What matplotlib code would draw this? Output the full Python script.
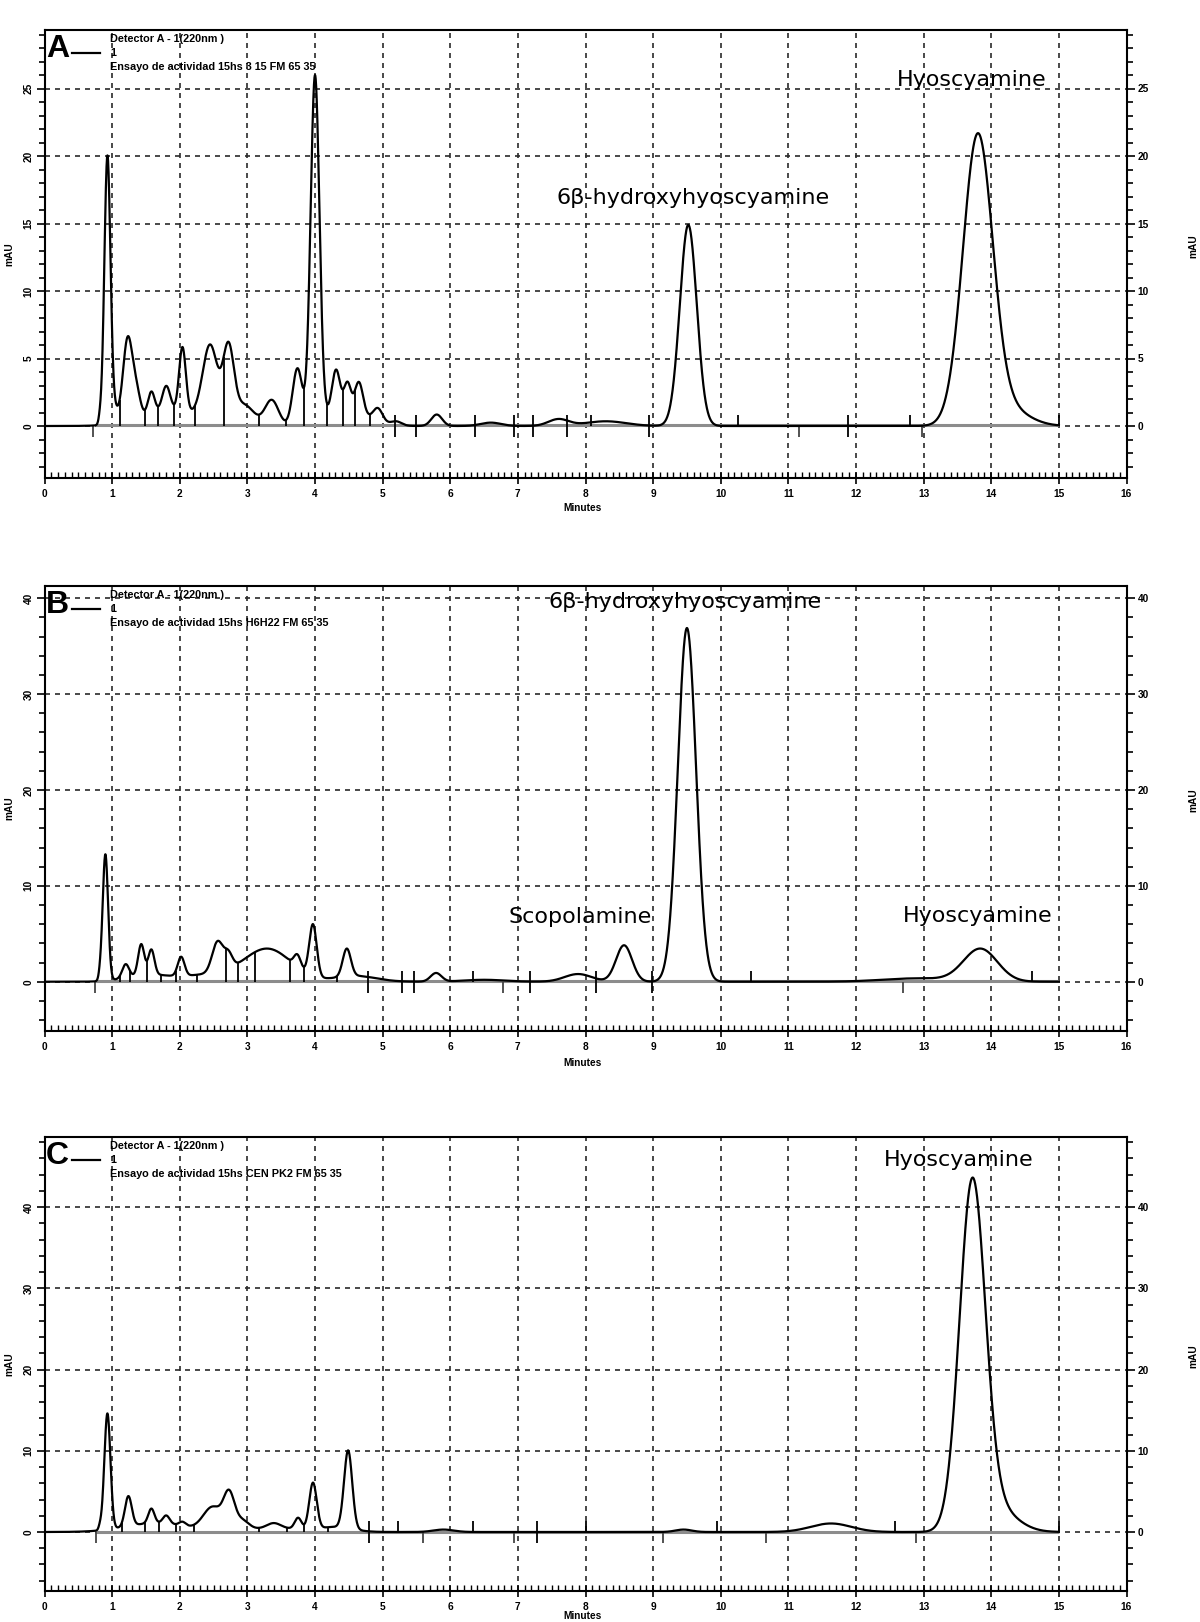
import numpy as np
import matplotlib
matplotlib.use("Agg")
import matplotlib.pyplot as plt
from matplotlib.ticker import MultipleLocator
from matplotlib.lines import Line2D

# ---------------- data ----------------
# Panel A : peak retention times (min), heights (mAU), widths (sigma, min)
a_rt = [0.82, 0.93, 1.03, 1.23, 1.36, 1.58, 1.80, 2.04, 2.45, 2.72, 2.95, 3.36, 3.74, 4.00,
        4.31, 4.48, 4.65, 4.93, 1.90, 4.45, 5.20, 5.80, 6.60, 7.60, 8.30, 9.52, 13.80, 14.25]
a_h = [0.4, 19.8, 1.0, 6.1, 1.8, 1.7, 1.9, 4.8, 5.5, 5.3, 1.5, 1.9, 4.2, 25.6,
       3.1, 2.0, 2.3, 1.0, 1.1, 1.2, 0.3, 0.85, 0.25, 0.5, 0.35, 14.9, 21.3, 1.2]
a_w = [0.02, 0.045, 0.05, 0.07, 0.06, 0.05, 0.06, 0.05, 0.11, 0.08, 0.15, 0.10, 0.07, 0.065,
       0.06, 0.05, 0.06, 0.07, 0.45, 0.30, 0.08, 0.08, 0.15, 0.15, 0.30, 0.125, 0.22, 0.30]
a_drop = [1.11, 1.49, 1.68, 1.92, 2.23, 2.65, 3.17, 3.57, 3.84, 4.18, 4.42, 4.59, 4.81]
a_up = [8.08, 10.25, 12.80, 15.00]
a_down = [0.72, 11.15, 12.98]
a_cross = [5.18, 5.50, 6.37, 6.95, 7.23, 7.73, 8.94, 11.88]
a_yticks = [0, 5, 10, 15, 20, 25]

# Panel B
b_rt = [0.82, 0.90, 1.20, 1.43, 1.58, 2.02, 2.56, 2.72, 3.74, 3.97, 4.47,
        1.50, 2.40, 3.30, 4.60, 5.79, 6.50, 7.89, 8.57, 9.50, 12.90, 13.84]
b_h = [0.4, 13.2, 1.4, 3.2, 2.6, 2.0, 3.2, 1.5, 1.3, 5.4, 2.9,
       0.7, 0.7, 3.4, 0.6, 0.9, 0.2, 0.8, 3.8, 36.9, 0.35, 3.4]
b_w = [0.02, 0.04, 0.05, 0.045, 0.045, 0.05, 0.08, 0.06, 0.05, 0.055, 0.06,
       0.30, 0.40, 0.35, 0.30, 0.08, 0.30, 0.20, 0.118, 0.135, 0.50, 0.25]
b_drop = [1.11, 1.26, 1.51, 1.73, 1.94, 2.25, 2.68, 2.86, 3.12, 3.63, 3.84, 4.32]
b_up = [6.33, 10.44, 14.60]
b_down = [0.74, 6.78, 12.69]
b_cross = [4.78, 5.29, 5.46, 7.18, 8.16, 8.98]
b_yticks = [0, 10, 20, 30, 40]

# Panel C
c_rt = [0.82, 0.93, 1.24, 1.58, 1.80, 2.04, 2.49, 2.73, 2.92, 3.39, 3.75, 3.97, 4.49,
        1.65, 3.40, 4.30, 5.90, 9.45, 11.63, 13.72, 14.05]
c_h = [0.4, 14.3, 3.7, 1.8, 1.0, 0.5, 2.9, 4.2, 1.2, 0.6, 1.4, 5.7, 9.6,
       1.1, 0.5, 0.6, 0.3, 0.3, 1.05, 42.0, 3.0]
c_w = [0.02, 0.045, 0.05, 0.045, 0.05, 0.05, 0.14, 0.08, 0.10, 0.10, 0.05, 0.055, 0.06,
       0.45, 0.35, 0.25, 0.15, 0.12, 0.30, 0.19, 0.30]
c_drop = [1.14, 1.49, 1.70, 1.94, 2.21, 3.17, 3.58, 3.83, 4.19]
c_up = [5.23, 6.33, 8.00, 9.94, 12.58, 15.00]
c_down = [0.76, 5.60, 6.94, 9.15, 10.67, 12.88]
c_cross = [4.80, 7.29]
c_yticks = [0, 10, 20, 30, 40]

x_ticks = list(range(0, 17))
sample_names = ["Ensayo de actividad 15hs 3 15 FM 65 35",
                "Ensayo de actividad 15hs H6H22 FM 65 35",
                "Ensayo de actividad 15hs CEN PK2 FM 65 35"]
panel_letters = ["A", "B", "C"]
a_labels = ["Hyoscyamine", "6\u03b2-hydroxyhyoscyamine"]
a_label_xy = [(13.71, 25.6), (9.59, 16.9)]
b_labels = ["6\u03b2-hydroxyhyoscyamine", "Scopolamine", "Hyoscyamine"]
b_label_xy = [(9.47, 39.6), (7.92, 6.8), (13.80, 6.9)]
c_labels = ["Hyoscyamine"]
c_label_xy = [(13.52, 45.8)]

# ---------------- figure ----------------
W, H = 1200, 1622
fig = plt.figure(figsize=(W / 100, H / 100), dpi=100)
TICKFONT = dict(family=["Liberation Sans", "DejaVu Sans"], fontsize=7.3, fontweight="bold")
HDRFONT = dict(family=["Liberation Sans Narrow", "Liberation Sans", "DejaVu Sans"],
               fontsize=7.8, fontweight="bold")

panels = [
    dict(rt=a_rt, h=a_h, w=a_w, drop=a_drop, up=a_up, down=a_down, cross=a_cross,
         yticks=a_yticks, labels=a_labels, label_xy=a_label_xy,
         top=30, bottom=478, zero=426, ppu=13.5, yminor=1, minutes_y=508),
    dict(rt=b_rt, h=b_h, w=b_w, drop=b_drop, up=b_up, down=b_down, cross=b_cross,
         yticks=b_yticks, labels=b_labels, label_xy=b_label_xy,
         top=586, bottom=1031, zero=981.7, ppu=9.585, yminor=2, minutes_y=1063),
    dict(rt=c_rt, h=c_h, w=c_w, drop=c_drop, up=c_up, down=c_down, cross=c_cross,
         yticks=c_yticks, labels=c_labels, label_xy=c_label_xy,
         top=1137, bottom=1591, zero=1532, ppu=8.12, yminor=2, minutes_y=1616),
]

X0, X1 = 44.5, 1126.5
t = np.linspace(0, 15, 6001)


def signal(x, rt, h, w):
    x = np.asarray(x, dtype=float)
    out = np.zeros_like(x)
    for r, hh, ww in zip(rt, h, w):
        out += hh * np.exp(-0.5 * ((x - r) / ww) ** 2)
    return out


for i, p in enumerate(panels):
    ax = fig.add_axes([X0 / W, 1 - p["bottom"] / H, (X1 - X0) / W, (p["bottom"] - p["top"]) / H])
    ylo = -(p["bottom"] - p["zero"]) / p["ppu"]
    yhi = (p["zero"] - p["top"]) / p["ppu"]
    ax.set_xlim(0, 16)
    ax.set_ylim(ylo, yhi)

    # grid
    ax.set_xticks(x_ticks)
    ax.set_yticks(p["yticks"])
    ax.xaxis.set_minor_locator(MultipleLocator(0.1))
    ax.yaxis.set_minor_locator(MultipleLocator(p["yminor"]))
    ax.grid(True, which="major", linestyle=(0, (3, 3)), color="#2a2a2a", linewidth=1.2, zorder=0)

    # integration baseline
    ax.plot([0.75, 15.0], [0.05, 0.05], color="#8c8c8c", lw=2.2, zorder=2, solid_capstyle="butt")

    # trace
    y = signal(t, p["rt"], p["h"], p["w"])
    ax.plot(t, y, color="black", lw=1.6, zorder=4)

    # drop lines
    yd = signal(p["drop"], p["rt"], p["h"], p["w"])
    ax.vlines(p["drop"], 0, yd, color="black", lw=1.3, zorder=3)

    # peak start / end markers
    L = 11.0 / p["ppu"]
    ax.vlines(p["up"], 0, L, color="black", lw=1.3, zorder=3)
    ax.vlines(p["down"], -L, 0, color="#444444", lw=1.3, zorder=3)
    ax.vlines(p["cross"], -L, L, color="black", lw=1.3, zorder=3)

    # spines / ticks
    for s in ax.spines.values():
        s.set_linewidth(1.5)
        s.set_color("black")
    ax.tick_params(axis="x", which="major", direction="inout", length=8, width=1.2,
                   pad=4, top=False)
    ax.tick_params(axis="x", which="minor", direction="in", length=4, width=1.0, top=False)
    ax.tick_params(axis="y", which="both", direction="out", left=True, right=True,
                   labelleft=True, labelright=True, width=1.2)
    ax.tick_params(axis="y", which="major", length=6, pad=2)
    ax.tick_params(axis="y", which="minor", length=4)
    for lab in ax.get_xticklabels():
        lab.set(**TICKFONT)
    for tk in ax.yaxis.get_major_ticks():
        tk.label1.set(**TICKFONT)
        tk.label1.set_rotation(90)
        tk.label1.set_va("center")
        tk.label2.set(**TICKFONT)

    # peak names
    for txt, (lx, ly) in zip(p["labels"], p["label_xy"]):
        ax.text(lx, ly, txt, ha="center", va="center", fontsize=16,
                family=["DejaVu Sans"], color="black", zorder=6)

    # axis titles
    fig.text(583 / W, 1 - p["minutes_y"] / H, "Minutes", ha="center", va="center", **TICKFONT)
    mid = (p["top"] + p["bottom"]) / 2
    fig.text(9 / W, 1 - mid / H, "mAU", rotation=90, ha="center", va="center", **TICKFONT)
    fig.text(1193 / W, 1 - (mid - 8) / H, "mAU", rotation=90, ha="center", va="center", **TICKFONT)

    # header block
    ytop = p["top"]
    fig.text(46 / W, 1 - (ytop + 19) / H, panel_letters[i], ha="left", va="center",
             family=["Liberation Sans", "DejaVu Sans"], fontsize=23, fontweight="bold")
    fig.add_artist(Line2D([72 / W, 100 / W], [1 - (ytop + 23) / H] * 2, color="black", lw=1.6))
    fig.text(110 / W, 1 - (ytop + 23) / H, "1", ha="left", va="center", **HDRFONT)
    fig.text(110 / W, 1 - (ytop + 9) / H, "Detector A - 1(220nm )", ha="left", va="center", **HDRFONT)
    fig.text(110 / W, 1 - (ytop + 37) / H, sample_names[i], ha="left", va="center", **HDRFONT)

fig.savefig("out.png", dpi=100, facecolor="white")
